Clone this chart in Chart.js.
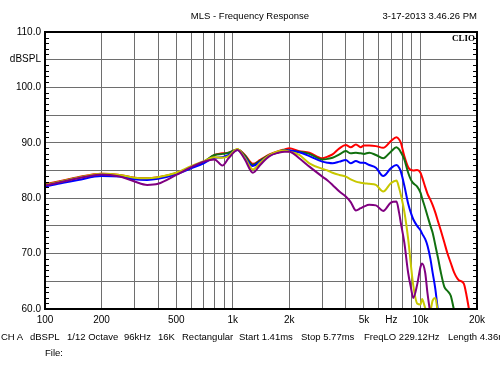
<!DOCTYPE html>
<html>
<head>
<meta charset="utf-8">
<script src="https://cdn.jsdelivr.net/npm/chart.js@4/dist/chart.umd.min.js"></script>
<style>
  html, body { margin:0; padding:0; background:#fff; }
  #wrap { position:relative; width:500px; height:375px; overflow:hidden; background:#fff; }
  #c { position:absolute; left:0; top:0; }
  .t { position:absolute; font-family:"Liberation Sans", Arial, sans-serif; font-size:9.5px; line-height:12px; color:#000; white-space:nowrap; }
  .clio { position:absolute; font-family:"Liberation Serif", "DejaVu Serif", serif; font-weight:bold; font-size:9px; line-height:10px; color:#000; }
</style>
</head>
<body>
<div id="wrap">
  <canvas id="c" width="500" height="375"></canvas>
  <div class="t" style="left:0; width:500px; text-align:center; top:10px;">MLS - Frequency Response</div>
  <div class="t" style="right:23px; top:10px;">3-17-2013 3.46.26 PM</div>
  <div class="clio" style="right:25px; top:33px;">CLIO</div>
  <div class="t" style="left:1px; top:331px;">CH A</div>
  <div class="t" style="left:30px; top:331px;">dBSPL</div>
  <div class="t" style="left:67px; top:331px;">1/12 Octave</div>
  <div class="t" style="left:124px; top:331px;">96kHz</div>
  <div class="t" style="left:158px; top:331px;">16K</div>
  <div class="t" style="left:182px; top:331px;">Rectangular</div>
  <div class="t" style="left:239px; top:331px;">Start 1.41ms</div>
  <div class="t" style="left:301px; top:331px;">Stop 5.77ms</div>
  <div class="t" style="left:364px; top:331px;">FreqLO 229.12Hz</div>
  <div class="t" style="left:448px; top:331px;">Length 4.36ms</div>
  <div class="t" style="left:45px; top:347px;">File:</div>
</div>
<script>
// ---- data ----
const FREQ = [100,125,150,200,250,300,350,400,500,600,700,800,880,950,1060,1160,1280,1400,1570,1750,1890,
  2000,2260,2560,3000,3200,3400,3700,4000,4250,4530,4800,5000,5330,5790,6330,6950,7450,7700,7860,
  8200,8600,8900,9150,9600,10000,10200,10600,10900,11300,11600,12000,12400,12800,13400,13900,14500,15100,
  16000,17000,17600,18100,18600];

const RED = [82.5,83.2,83.8,84.4,84.2,83.7,83.6,83.8,84.5,85.6,86.5,87.8,88.1,88.2,88.8,87.8,86.2,86.9,87.9,88.5,88.8,
  89.0,88.5,88.2,87.2,87.5,87.9,89.0,89.6,89.2,89.7,89.2,89.5,89.5,89.4,89.1,90.3,91.0,90.6,90.0,
  87.6,85.6,85.1,85.0,85.1,84.6,83.8,82.0,80.8,79.7,78.8,77.4,75.8,74.3,72.0,70.1,68.3,66.6,
  65.2,64.6,62.4,60.1,58.0];

const GREEN = [82.4,83.1,83.7,84.3,84.1,83.6,83.5,83.7,84.5,85.6,86.6,87.8,88.0,88.2,88.8,87.7,86.0,86.8,87.8,88.4,88.7,
  88.6,88.4,88.0,87.0,87.1,87.3,87.9,88.5,88.1,88.2,88.1,88.0,88.2,87.8,87.2,88.4,89.2,88.8,88.3,
  87.0,84.6,83.3,82.7,82.1,81.0,80.0,78.2,76.8,75.0,73.8,71.5,69.2,66.8,64.0,63.3,62.4,59.8,
  57.0,null,null,null,null];

const BLUE = [82.1,82.8,83.3,84.0,83.9,83.4,83.3,83.5,84.3,85.4,86.3,87.3,87.4,87.8,88.7,87.4,85.8,86.6,87.7,88.3,88.6,
  88.6,88.3,87.6,86.6,86.4,86.3,86.6,86.9,86.3,86.7,86.4,86.4,86.0,85.5,84.0,85.4,86.0,85.5,84.8,
  82.3,79.0,77.3,76.2,75.0,74.2,73.6,72.6,71.4,69.0,66.6,63.6,59.5,null,null,null,null,null,
  null,null,null,null,null];

const YELLOW = [82.4,83.1,83.7,84.4,84.2,83.7,83.6,83.8,84.6,85.8,86.7,87.4,87.3,87.6,88.9,87.3,85.2,86.4,87.8,88.5,88.6,
  88.4,87.8,86.3,85.3,85.0,84.6,84.2,83.9,83.4,83.0,82.8,82.7,82.6,82.4,81.2,82.7,83.2,81.8,80.6,
  77.6,72.6,67.8,64.3,61.0,60.8,61.8,60.2,59.5,59.8,61.5,62.0,59.0,null,null,null,null,null,
  null,null,null,null,null];

const PURPLE = [82.3,83.0,83.6,84.3,83.9,83.0,82.4,82.6,84.2,85.6,86.6,87.0,85.9,87.2,88.7,87.0,84.6,86.0,87.6,88.2,88.4,
  88.4,87.2,85.7,83.9,83.2,82.4,81.2,80.3,79.3,77.8,78.2,78.5,78.8,78.7,77.7,79.2,79.4,77.3,75.5,
  72.0,66.5,63.8,62.0,64.4,67.6,68.2,66.5,62.8,59.0,null,null,null,null,null,null,null,null,
  null,null,null,null,null];

const X_GRID = [100,200,300,400,500,600,700,800,900,1000,2000,3000,4000,5000,6000,7000,8000,9000,10000,20000];
const X_LABELS = {100:'100',200:'200',500:'500',1000:'1k',2000:'2k',5000:'5k',7000:'Hz',10000:'10k',20000:'20k'};
const Y_GRID = [60,65,70,75,80,85,90,95,100,105,110];
const Y_LABELS = {60:'60.0',70:'70.0',80:'80.0',90:'90.0',100:'100.0',105:'dBSPL',110:'110.0'};

const SERIES = [
  {name:'purple', values:PURPLE, color:'#800080'},
  {name:'yellow', values:YELLOW, color:'#c8c800'},
  {name:'blue',   values:BLUE,   color:'#0000ff'},
  {name:'green',  values:GREEN,  color:'#11700f'},
  {name:'red',    values:RED,    color:'#ff0000'}
];

const FONT = {family:'"Liberation Sans", Arial, sans-serif', size:10};

const framePlugin = {
  id:'frame',
  afterDatasetsDraw(chart){
    const {ctx, chartArea:a, scales} = chart;
    const ys = scales.y;
    ctx.save();
    ctx.strokeStyle = '#000';
    ctx.lineWidth = 1;
    for (let v = 61; v < 110; v++) {
      if (v % 5 === 0) continue;
      const y = Math.round(ys.getPixelForValue(v)) + 0.5;
      ctx.beginPath();
      ctx.moveTo(a.left, y); ctx.lineTo(a.left + 4, y);
      ctx.moveTo(a.right - 4, y); ctx.lineTo(a.right, y);
      ctx.stroke();
    }
    ctx.lineWidth = 2;
    ctx.strokeRect(a.left, a.top, a.right - a.left, a.bottom - a.top);
    ctx.restore();
  }
};

new Chart(document.getElementById('c'), {
  type:'line',
  data:{
    datasets: SERIES.map(s => ({
      label:s.name,
      data: FREQ.map((f,i) => ({x:f, y:s.values[i]})),
      borderColor:s.color,
      backgroundColor:s.color,
      borderWidth:2,
      pointRadius:0,
      cubicInterpolationMode:'monotone',
      spanGaps:false,
      fill:false
    }))
  },
  options:{
    responsive:false,
    animation:false,
    devicePixelRatio:1,
    events:[],
    layout:{padding:{top:32, right:23, left:0, bottom:0}},
    plugins:{legend:{display:false}, tooltip:{enabled:false}, title:{display:false}},
    scales:{
      x:{
        type:'logarithmic', min:100, max:20000,
        afterBuildTicks:(s)=>{ s.ticks = X_GRID.map(v=>({value:v})); },
        afterFit:(s)=>{ s.height = 66; },
        ticks:{autoSkip:false, maxRotation:0, minRotation:0, padding:5, color:'#000', font:FONT,
          callback:(v)=> (X_LABELS[v] !== undefined ? X_LABELS[v] : '')},
        grid:{color:'#6e6e6e', lineWidth:1, drawTicks:false},
        border:{display:false}
      },
      y:{
        min:60, max:110,
        afterBuildTicks:(s)=>{ s.ticks = Y_GRID.map(v=>({value:v})); },
        afterFit:(s)=>{ s.width = 45; },
        ticks:{autoSkip:false, padding:4, color:'#000', font:FONT,
          callback:(v)=> (Y_LABELS[v] !== undefined ? Y_LABELS[v] : '')},
        grid:{color:'#6e6e6e', lineWidth:1, drawTicks:false},
        border:{display:false}
      }
    }
  },
  plugins:[framePlugin]
});
</script>
</body>
</html>
